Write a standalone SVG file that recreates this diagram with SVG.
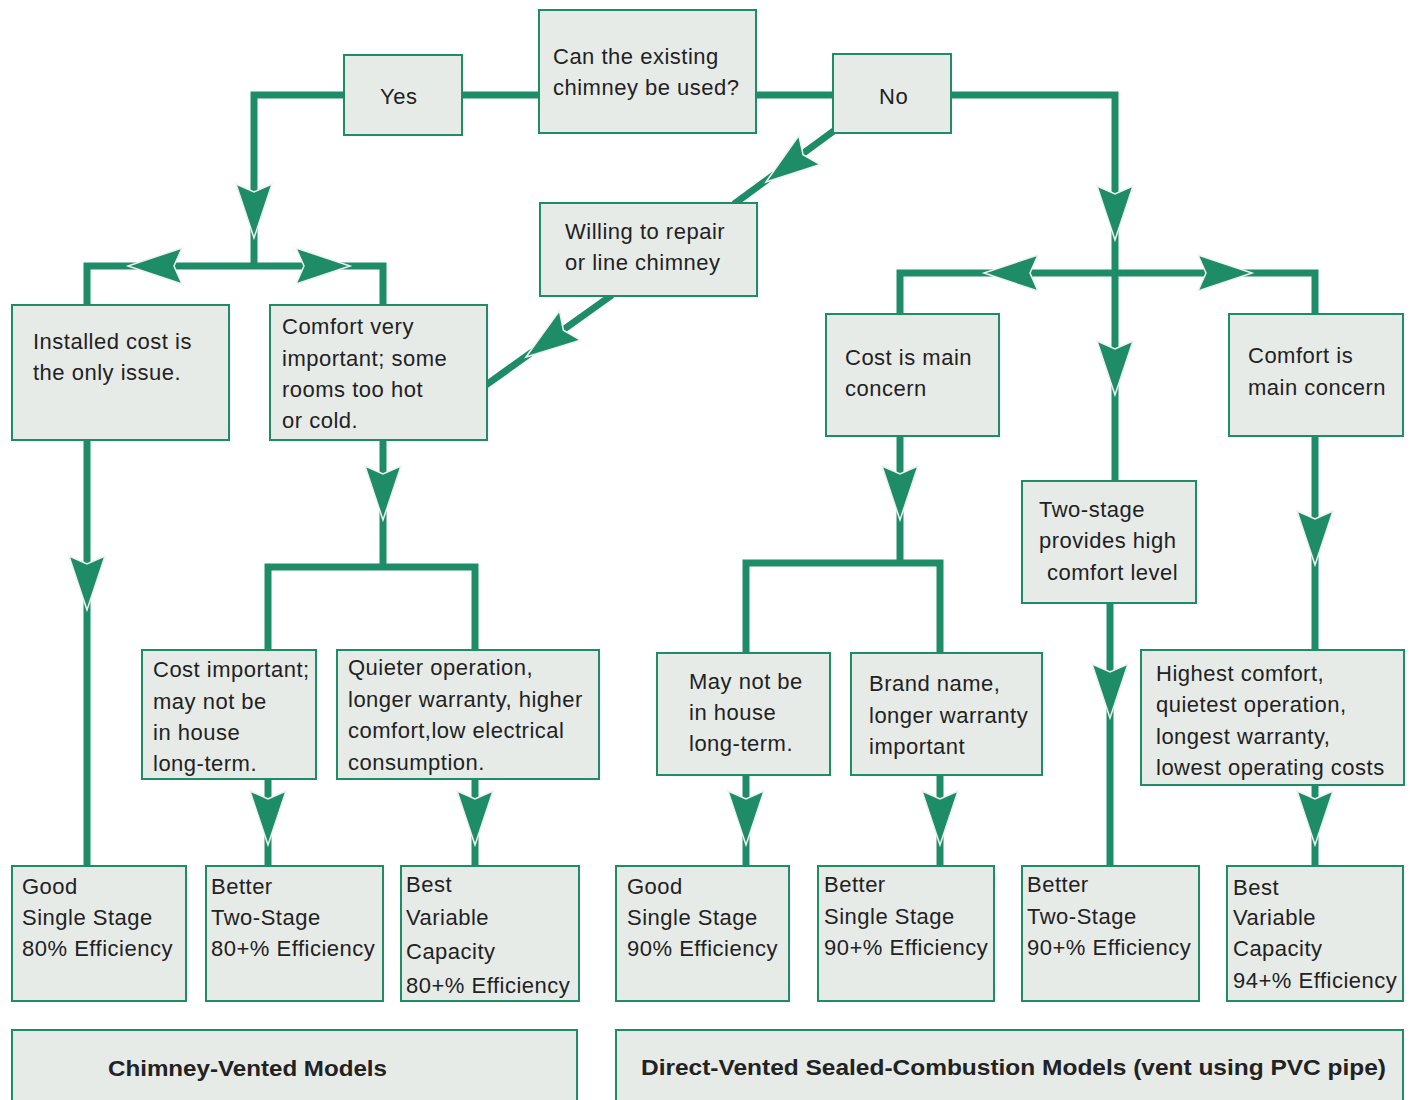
<svg xmlns="http://www.w3.org/2000/svg" width="1413" height="1100" viewBox="0 0 1413 1100">
<defs>
<style>
.box{fill:#e7ebe8;stroke:#1f8c68;stroke-width:2}
.ln{fill:none;stroke:#1f8c68;stroke-width:7;stroke-linejoin:miter}
.ar{fill:#1f8c68;stroke:#eef2ef;stroke-width:1.5;stroke-linejoin:miter}
text{font-family:"Liberation Sans",Arial,sans-serif;font-size:22px;fill:#222;letter-spacing:0.5px}
.hd{font-weight:bold;font-size:22px;letter-spacing:0}
</style>
<path id="arr" class="ar" d="M0,0 L-18,-54 L0,-46 L18,-54 Z"/>
</defs>
<rect width="1413" height="1100" fill="#ffffff"/>
<g id="connectors">
<polyline class="ln" points="344,95 254,95 254,266"/>
<polyline class="ln" points="87,305 87,266 383,266 383,305"/>
<line class="ln" x1="462" y1="95" x2="539" y2="95"/>
<line class="ln" x1="756" y1="95" x2="833" y2="95"/>
<polyline class="ln" points="951,95 1115,95 1115,481"/>
<polyline class="ln" points="900,314 900,273 1315,273 1315,314"/>
<line class="ln" x1="835" y1="130" x2="734" y2="204"/>
<line class="ln" x1="612" y1="295" x2="486" y2="385"/>
<line class="ln" x1="87" y1="440" x2="87" y2="866"/>
<line class="ln" x1="383" y1="440" x2="383" y2="567"/>
<polyline class="ln" points="268,650 268,567 475,567 475,650"/>
<line class="ln" x1="268" y1="779" x2="268" y2="866"/>
<line class="ln" x1="475" y1="779" x2="475" y2="866"/>
<line class="ln" x1="900" y1="436" x2="900" y2="563"/>
<polyline class="ln" points="746,653 746,563 940,563 940,653"/>
<line class="ln" x1="746" y1="775" x2="746" y2="866"/>
<line class="ln" x1="940" y1="775" x2="940" y2="866"/>
<line class="ln" x1="1110" y1="603" x2="1110" y2="866"/>
<line class="ln" x1="1315" y1="436" x2="1315" y2="650"/>
<line class="ln" x1="1315" y1="785" x2="1315" y2="866"/>
<use href="#arr" transform="translate(254,238)"/>
<use href="#arr" transform="translate(128,266) rotate(90)"/>
<use href="#arr" transform="translate(350,266) rotate(-90)"/>
<use href="#arr" transform="translate(766,182) rotate(53.7)"/>
<use href="#arr" transform="translate(526,357) rotate(54.4)"/>
<use href="#arr" transform="translate(87,610)"/>
<use href="#arr" transform="translate(383,520)"/>
<use href="#arr" transform="translate(268,845)"/>
<use href="#arr" transform="translate(475,845)"/>
<use href="#arr" transform="translate(1115,240)"/>
<use href="#arr" transform="translate(984,273) rotate(90)"/>
<use href="#arr" transform="translate(1252,273) rotate(-90)"/>
<use href="#arr" transform="translate(1115,395)"/>
<use href="#arr" transform="translate(900,520)"/>
<use href="#arr" transform="translate(746,845)"/>
<use href="#arr" transform="translate(940,845)"/>
<use href="#arr" transform="translate(1110,718)"/>
<use href="#arr" transform="translate(1315,565)"/>
<use href="#arr" transform="translate(1315,845)"/>
</g>
<g id="n-question"><rect class="box" x="539" y="10" width="217" height="123"/><text x="553" y="64">Can the existing</text><text x="553" y="95">chimney be used?</text></g>
<g id="n-yes"><rect class="box" x="344" y="55" width="118" height="80"/><text x="380" y="104">Yes</text></g>
<g id="n-no"><rect class="box" x="833" y="54" width="118" height="79"/><text x="879" y="104">No</text></g>
<g id="n-willing"><rect class="box" x="540" y="203" width="217" height="93"/><text x="565" y="239">Willing to repair</text><text x="565" y="270">or line chimney</text></g>
<g id="n-installed"><rect class="box" x="12" y="305" width="217" height="135"/><text x="33" y="349">Installed cost is</text><text x="33" y="380">the only issue.</text></g>
<g id="n-comfort-very"><rect class="box" x="270" y="305" width="217" height="135"/><text x="282" y="334">Comfort very</text><text x="282" y="366">important; some</text><text x="282" y="397">rooms too hot</text><text x="282" y="428">or cold.</text></g>
<g id="n-cost-main"><rect class="box" x="826" y="314" width="173" height="122"/><text x="845" y="365">Cost is main</text><text x="845" y="396">concern</text></g>
<g id="n-comfort-main"><rect class="box" x="1229" y="314" width="174" height="122"/><text x="1248" y="363">Comfort is</text><text x="1248" y="395">main concern</text></g>
<g id="n-two-stage"><rect class="box" x="1022" y="481" width="174" height="122"/><text x="1039" y="517">Two-stage</text><text x="1039" y="548">provides high</text><text x="1047" y="580">comfort level</text></g>
<g id="n-cost-important"><rect class="box" x="142" y="650" width="174" height="129"/><text x="153" y="677">Cost important;</text><text x="153" y="709">may not be</text><text x="153" y="740">in house</text><text x="153" y="771">long-term.</text></g>
<g id="n-quieter"><rect class="box" x="337" y="650" width="262" height="129"/><text x="348" y="675">Quieter operation,</text><text x="348" y="707">longer warranty, higher</text><text x="348" y="738">comfort,low electrical</text><text x="348" y="770">consumption.</text></g>
<g id="n-may-not"><rect class="box" x="657" y="653" width="173" height="122"/><text x="689" y="689">May not be</text><text x="689" y="720">in house</text><text x="689" y="751">long-term.</text></g>
<g id="n-brand"><rect class="box" x="851" y="653" width="191" height="122"/><text x="869" y="691">Brand name,</text><text x="869" y="723">longer warranty</text><text x="869" y="754">important</text></g>
<g id="n-highest"><rect class="box" x="1141" y="650" width="263" height="135"/><text x="1156" y="681">Highest comfort,</text><text x="1156" y="712">quietest operation,</text><text x="1156" y="744">longest warranty,</text><text x="1156" y="775">lowest operating costs</text></g>
<g id="n-good-1"><rect class="box" x="12" y="866" width="174" height="135"/><text x="22" y="894">Good</text><text x="22" y="925">Single Stage</text><text x="22" y="956">80% Efficiency</text></g>
<g id="n-better-1"><rect class="box" x="206" y="866" width="177" height="135"/><text x="211" y="894">Better</text><text x="211" y="925">Two-Stage</text><text x="211" y="956">80+% Efficiency</text></g>
<g id="n-best-1"><rect class="box" x="401" y="866" width="178" height="135"/><text x="406" y="892">Best</text><text x="406" y="925">Variable</text><text x="406" y="959">Capacity</text><text x="406" y="993">80+% Efficiency</text></g>
<g id="n-good-2"><rect class="box" x="616" y="866" width="173" height="135"/><text x="627" y="894">Good</text><text x="627" y="925">Single Stage</text><text x="627" y="956">90% Efficiency</text></g>
<g id="n-better-2"><rect class="box" x="818" y="866" width="176" height="135"/><text x="824" y="892">Better</text><text x="824" y="924">Single Stage</text><text x="824" y="955">90+% Efficiency</text></g>
<g id="n-better-3"><rect class="box" x="1022" y="866" width="177" height="135"/><text x="1027" y="892">Better</text><text x="1027" y="924">Two-Stage</text><text x="1027" y="955">90+% Efficiency</text></g>
<g id="n-best-2"><rect class="box" x="1227" y="866" width="176" height="135"/><text x="1233" y="895">Best</text><text x="1233" y="925">Variable</text><text x="1233" y="956">Capacity</text><text x="1233" y="988">94+% Efficiency</text></g>
<g id="n-label-chimney"><rect class="box" x="12" y="1030" width="565" height="80"/><text class="hd" x="108" y="1076" textLength="279" lengthAdjust="spacingAndGlyphs">Chimney-Vented Models</text></g>
<g id="n-label-direct"><rect class="box" x="616" y="1030" width="787" height="80"/><text class="hd" x="641" y="1075" textLength="745" lengthAdjust="spacingAndGlyphs">Direct-Vented Sealed-Combustion Models (vent using PVC pipe)</text></g>
</svg>
